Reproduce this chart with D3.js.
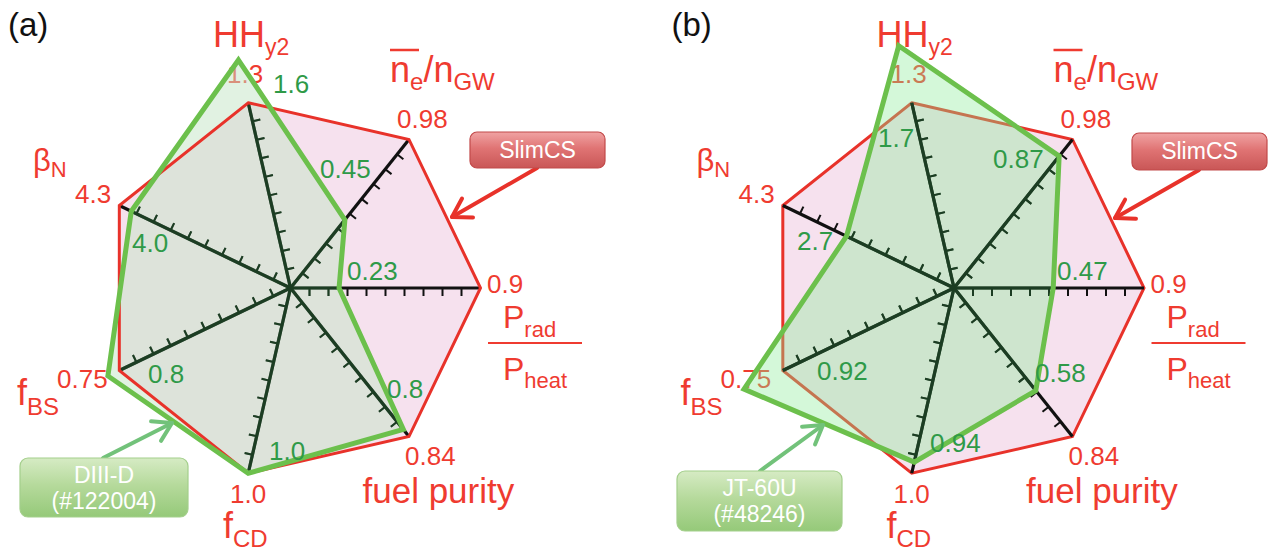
<!DOCTYPE html>
<html>
<head>
<meta charset="utf-8">
<script src="https://cdn.jsdelivr.net/npm/d3@7"></script>
<style>
  html, body { margin: 0; padding: 0; background: #ffffff; }
  svg { display: block; font-family: "Liberation Sans", Arial, Helvetica, sans-serif; }
</style>
</head>
<body>
<svg id="chart" width="1269" height="554"></svg>
<script>
// Radar axes, clockwise from the top
const axisKeys = ["HH", "ne", "Prad", "fuel", "fCD", "fBS", "betaN"];
// SlimCS design values (outer reference polygon)
const slimcsLabels = ["1.3", "0.98", "0.9", "0.84", "1.0", "0.75", "4.3"];
// DIII-D discharge #122004
const diiidLabels = ["1.6", "0.45", "0.23", "0.8", "1.0", "0.8", "4.0"];
// JT-60U discharge #48246
const jt60uLabels = ["1.7", "0.87", "0.47", "0.58", "0.94", "0.92", "2.7"];
// Tick marks along each axis, as fractions of the SlimCS value
const tickFractions = [0.1, 0.2, 0.3, 0.4, 0.5, 0.6, 0.7, 0.8, 0.9];

const slimcsValues = slimcsLabels.map(Number);
const diiidValues = diiidLabels.map(Number);
const jt60uValues = jt60uLabels.map(Number);

const RED = "#e8322a", RED_TEXT = "#ef3b30";
const GREEN_LINE = "#6cc04c", GREEN_TEXT = "#2f9a48";
const AXIS_DARK = "#1c3d23";
const R = 190;
const n = axisKeys.length;

// angle measured clockwise from 12 o'clock; P_rad/P_heat points due right
const step = 2 * Math.PI / n;
const angle = d3.scaleLinear().domain([0, n]).range([Math.PI / 2 - 2 * step, Math.PI / 2 - 2 * step + 2 * Math.PI]);
const radial = slimcsValues.map(v => d3.scaleLinear().domain([0, v]).range([0, R]));
const pt = (i, r) => [Math.sin(angle(i)) * r, -Math.cos(angle(i)) * r];

const polygon = d3.lineRadial()
  .angle((d, i) => angle(i))
  .radius((d, i) => radial[i](d))
  .curve(d3.curveLinearClosed);

// Axis titles and SlimCS value labels, placed relative to the panel centre
const axisTitleLayout = {
  HH: { x: -77.5, y: -241 },
  ne: { x: 99.5, y: -206 },
  Prad: { x: 212.5, y: 40 },
  fuel: { x: 72, y: 215 },
  fCD: { x: -67.5, y: 250 },
  fBS: { x: -273.5, y: 117 },
  betaN: { x: -257.5, y: -117 }
};
const refLabelLayout = [
  [-63.5, -205], [106.5, -160], [196.5, 5], [114.5, 177], [-60.5, 215], [-233.5, 100], [-215.5, -85]
];

const panels = [
  {
    letter: "(a)", cx: 290.5, cy: 288,
    values: diiidValues, labels: diiidLabels,
    device: ["DIII-D", "(#122004)"],
    fill: "rgba(196,229,198,0.5)", redOnTop: true,
    valueLayout: [[-17.5, -195], [29.5, -110], [56.5, -8], [96.5, 110], [-21.5, 172], [-142.5, 95], [-158.5, -36]],
    refBox: { x: 470, y: 132, w: 135, h: 36, arrow: [[537, 168], [452, 217]] },
    devBox: { x: 20, y: 458, w: 168, h: 59, arrow: [[103, 458], [172, 423]] }
  },
  {
    letter: "(b)", cx: 954, cy: 288,
    values: jt60uValues, labels: jt60uLabels,
    device: ["JT-60U", "(#48246)"],
    fill: "rgba(135,235,150,0.36)", redOnTop: false,
    valueLayout: [[-76, -141], [39, -120], [103, -8], [81, 94], [-24, 164], [-137, 92], [-157, -38]],
    refBox: { x: 1132, y: 133, w: 135, h: 37, arrow: [[1199, 170], [1115, 218]] },
    devBox: { x: 677, y: 471, w: 165, h: 60, arrow: [[760, 471], [823, 425]] }
  }
];

const svg = d3.select("#chart");
const defs = svg.append("defs");

const redGrad = defs.append("linearGradient").attr("id", "gradRed").attr("x1", 0).attr("y1", 0).attr("x2", 0).attr("y2", 1);
redGrad.append("stop").attr("offset", "0%").attr("stop-color", "#f0a3a3");
redGrad.append("stop").attr("offset", "45%").attr("stop-color", "#e07474");
redGrad.append("stop").attr("offset", "100%").attr("stop-color", "#c95656");
const greenGrad = defs.append("linearGradient").attr("id", "gradGreen").attr("x1", 0).attr("y1", 0).attr("x2", 0).attr("y2", 1);
greenGrad.append("stop").attr("offset", "0%").attr("stop-color", "#d6ebc4");
greenGrad.append("stop").attr("offset", "45%").attr("stop-color", "#b6da9c");
greenGrad.append("stop").attr("offset", "100%").attr("stop-color", "#95c979");

function drawAxes(g, color) {
  axisKeys.forEach((k, i) => {
    const end = pt(i, R);
    g.append("line").attr("x1", 0).attr("y1", 0).attr("x2", end[0]).attr("y2", end[1])
      .attr("stroke", color).attr("stroke-width", 3.2);
    const a = angle(i);
    const perp = [Math.cos(a), Math.sin(a)];
    g.selectAll(null).data(tickFractions).enter().append("line")
      .attr("x1", f => pt(i, radial[i](f * slimcsValues[i]))[0])
      .attr("y1", f => pt(i, radial[i](f * slimcsValues[i]))[1])
      .attr("x2", f => pt(i, radial[i](f * slimcsValues[i]))[0] + perp[0] * 8)
      .attr("y2", f => pt(i, radial[i](f * slimcsValues[i]))[1] + perp[1] * 8)
      .attr("stroke", color).attr("stroke-width", 2);
  });
}

function arrow(g, from, to, color) {
  g.append("line").attr("x1", from[0]).attr("y1", from[1]).attr("x2", to[0]).attr("y2", to[1])
    .attr("stroke", color).attr("stroke-width", 4).attr("stroke-linecap", "round");
  const ang = Math.atan2(from[1] - to[1], from[0] - to[0]);
  const L = 21, spread = 0.55;
  const p1 = [to[0] + L * Math.cos(ang + spread), to[1] + L * Math.sin(ang + spread)];
  const p2 = [to[0] + L * Math.cos(ang - spread), to[1] + L * Math.sin(ang - spread)];
  g.append("path").attr("d", `M${p1}L${to}L${p2}`).attr("fill", "none")
    .attr("stroke", color).attr("stroke-width", 4).attr("stroke-linecap", "round").attr("stroke-linejoin", "round");
}

function axisTitles(g) {
  const t = (k) => g.append("text").attr("x", axisTitleLayout[k].x).attr("y", axisTitleLayout[k].y)
    .attr("fill", RED_TEXT).attr("font-size", 36);
  // HH_y2
  let e = t("HH"); e.append("tspan").text("HH");
  e.append("tspan").attr("font-size", 23).attr("dy", 8).text("y2");
  // n̄e / nGW
  e = t("ne");
  e.append("tspan").text("n");
  e.append("tspan").attr("font-size", 24).attr("dy", 8).text("e");
  e.append("tspan").attr("dy", -8).text("/n");
  e.append("tspan").attr("font-size", 24).attr("dy", 8).text("GW");
  g.append("line").attr("x1", axisTitleLayout.ne.x).attr("x2", axisTitleLayout.ne.x + 29)
    .attr("y1", axisTitleLayout.ne.y - 32).attr("y2", axisTitleLayout.ne.y - 32)
    .attr("stroke", RED_TEXT).attr("stroke-width", 2.5);
  // P_rad / P_heat
  const p = axisTitleLayout.Prad;
  e = g.append("text").attr("x", p.x).attr("y", p.y).attr("fill", RED_TEXT).attr("font-size", 32);
  e.append("tspan").text("P");
  e.append("tspan").attr("font-size", 22).attr("dy", 9).text("rad");
  g.append("line").attr("x1", p.x - 15).attr("x2", p.x + 79).attr("y1", p.y + 15).attr("y2", p.y + 15)
    .attr("stroke", RED_TEXT).attr("stroke-width", 2);
  e = g.append("text").attr("x", p.x).attr("y", p.y + 52).attr("fill", RED_TEXT).attr("font-size", 32);
  e.append("tspan").text("P");
  e.append("tspan").attr("font-size", 22).attr("dy", 8).text("heat");
  // fuel purity
  t("fuel").attr("font-size", 35).text("fuel purity");
  // f_CD
  e = t("fCD"); e.append("tspan").text("f");
  e.append("tspan").attr("font-size", 24).attr("dy", 9).text("CD");
  // f_BS
  e = t("fBS"); e.append("tspan").text("f");
  e.append("tspan").attr("font-size", 24).attr("dy", 10).text("BS");
  // beta_N
  e = t("betaN").attr("font-size", 31); e.append("tspan").text("β");
  e.append("tspan").attr("font-size", 22).attr("dy", 6).text("N");
}

panels.forEach(P => {
  const top = svg.append("g");
  const g = top.append("g").attr("transform", `translate(${P.cx},${P.cy})`);
  const clipId = "clip" + P.letter.replace(/\W/g, "");
  defs.append("clipPath").attr("id", clipId).append("path").attr("d", polygon(P.values));

  // SlimCS area
  g.append("path").attr("d", polygon(slimcsValues)).attr("fill", "#f6e1ee").attr("stroke", "none");
  if (!P.redOnTop) {
    g.append("path").attr("d", polygon(slimcsValues)).attr("fill", "none").attr("stroke", RED)
      .attr("stroke-width", 3).attr("stroke-linejoin", "miter");
  }

  // titles and SlimCS values sit beneath the translucent device area
  axisTitles(g);
  g.selectAll(null).data(slimcsLabels).enter().append("text")
    .attr("x", (d, i) => refLabelLayout[i][0]).attr("y", (d, i) => refLabelLayout[i][1])
    .attr("fill", RED_TEXT).attr("font-size", 26).text(d => d);

  drawAxes(g.append("g"), "#111111");

  // device area
  g.append("path").attr("d", polygon(P.values)).attr("fill", P.fill).attr("stroke", "none");
  drawAxes(g.append("g").attr("clip-path", `url(#${clipId})`), AXIS_DARK);

  if (P.redOnTop) {
    g.append("path").attr("d", polygon(slimcsValues)).attr("fill", "none").attr("stroke", RED)
      .attr("stroke-width", 3).attr("stroke-linejoin", "miter");
  }
  g.append("path").attr("d", polygon(P.values)).attr("fill", "none").attr("stroke", GREEN_LINE)
    .attr("stroke-width", 5).attr("stroke-linejoin", "miter");

  // device values
  g.selectAll(null).data(P.labels).enter().append("text")
    .attr("x", (d, i) => P.valueLayout[i][0]).attr("y", (d, i) => P.valueLayout[i][1])
    .attr("fill", GREEN_TEXT).attr("font-size", 26).text(d => d);

  // panel letter
  top.append("text").attr("x", P.cx - 282.5).attr("y", 36).attr("font-size", 33).attr("fill", "#111").text(P.letter);

  // SlimCS callout
  const rb = P.refBox;
  arrow(top, rb.arrow[0], rb.arrow[1], RED);
  top.append("rect").attr("x", rb.x).attr("y", rb.y).attr("width", rb.w).attr("height", rb.h)
    .attr("rx", 7).attr("fill", "url(#gradRed)").attr("stroke", "#c24a4a").attr("stroke-width", 1.2);
  top.append("text").attr("x", rb.x + rb.w / 2).attr("y", rb.y + 26).attr("text-anchor", "middle")
    .attr("fill", "#ffffff").attr("font-size", 23).text("SlimCS");

  // device callout
  const db = P.devBox;
  arrow(top, db.arrow[0], db.arrow[1], "#72c27a");
  top.append("rect").attr("x", db.x).attr("y", db.y).attr("width", db.w).attr("height", db.h)
    .attr("rx", 8).attr("fill", "url(#gradGreen)").attr("stroke", "#a4cf8c").attr("stroke-width", 1.2);
  top.append("text").attr("x", db.x + db.w / 2).attr("y", db.y + 25).attr("text-anchor", "middle")
    .attr("fill", "#ffffff").attr("font-size", 23).text(P.device[0]);
  top.append("text").attr("x", db.x + db.w / 2).attr("y", db.y + 51).attr("text-anchor", "middle")
    .attr("fill", "#ffffff").attr("font-size", 23).text(P.device[1]);
});
</script>
</body>
</html>
